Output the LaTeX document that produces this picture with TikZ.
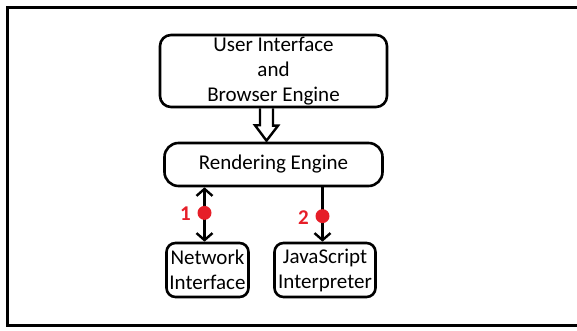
\documentclass[tikz,border=0pt]{standalone}
\usepackage{fontspec}
\setmainfont{Carlito}
\usepackage{tikz}
\usetikzlibrary{arrows.meta, calc}
\definecolor{dotred}{RGB}{230,30,40}
\tikzstyle{block} = [rectangle, draw, rounded corners=11pt, line width=2.6pt, align=center, inner sep=0pt]
\tikzstyle{arrow} = [line width=2.4pt, ->, >={Straight Barb[length=7pt,width=16pt]}]
\tikzstyle{dot} = [circle, fill=dotred, inner sep=0pt, minimum size=14pt]
\tikzstyle{num} = [text=dotred, font=\bfseries\fontsize{21}{24}\selectfont]

\begin{document}
\begin{tikzpicture}[x=1pt, y=1pt, node distance=93.5pt, font=\fontsize{21}{25}\selectfont]
  \useasboundingbox (0,0) rectangle (577,331);
  \draw[line width=3pt] (582,323) -- (7,323) -- (7,5) -- (582,5);

  \node (ui) [block, minimum width=227pt, minimum height=72pt] at (273.5,260) {User Interface\hspace{16pt}\\and\\Browser Engine};
  \node (render) [block, below of=ui, rounded corners=14pt, minimum width=218pt, minimum height=43pt] {Rendering Engine};
  \node (net) [block, below of=render, node distance=105.5pt, xshift=-66pt, rounded corners=9pt, minimum width=82pt, minimum height=54pt] {Network\\Interface};
  \node (js) [block, below of=render, node distance=105.5pt, xshift=51.5pt, rounded corners=9pt, minimum width=101pt, minimum height=54pt] {JavaScript\\Interpreter};

  % hollow arrow from ui to render
  \draw[line width=2.4pt, line join=miter] ([xshift=-13.5pt]ui.south) -- ++(0,-17) -- ++(-5,0) -- ([xshift=-7pt, yshift=1pt]render.north) -- ++(11.5,15) -- ++(-5,0) -- ([xshift=-0.5pt]ui.south);

  \draw[arrow, <->] ([xshift=-3pt]net.north) -- ([xshift=-3pt]net.north |- render.south)
    node[dot, pos=0.53, label={[num, xshift=-1pt, yshift=-1pt]left:1}] {};
  \draw[arrow] ([xshift=-2.5pt]js.north |- render.south) -- ([xshift=-2.5pt]js.north)
    node[dot, pos=0.53, label={[num, xshift=-1pt, yshift=-1pt]left:2}] {};
\end{tikzpicture}
\end{document}
